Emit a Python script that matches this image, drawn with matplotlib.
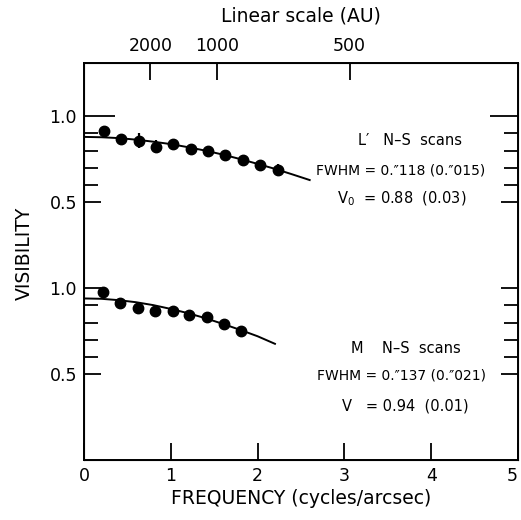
import matplotlib
matplotlib.use("Agg")
import matplotlib.pyplot as plt

# L' band, N-S scans (drawn in the upper strip, shifted up by one unit)
l_freq = [0.23, 0.43, 0.63, 0.83, 1.03, 1.23, 1.43, 1.63, 1.83, 2.03, 2.23]
l_vis = [0.912, 0.867, 0.859, 0.824, 0.837, 0.810, 0.800, 0.775, 0.745, 0.714, 0.688]
l_err = [0.0, 0.0, 0.045, 0.040, 0.0, 0.0, 0.0, 0.0, 0.0, 0.0, 0.035]
l_fit_freq = [0.0, 0.2, 0.4, 0.6, 0.8, 1.0, 1.2, 1.4, 1.6, 1.8, 2.0, 2.2, 2.4, 2.6]
l_fit_vis = [0.880, 0.878, 0.873, 0.864, 0.852, 0.838, 0.820, 0.800, 0.777, 0.751, 0.723, 0.694, 0.662, 0.629]

# M band, N-S scans (lower strip)
m_freq = [0.22, 0.42, 0.62, 0.82, 1.02, 1.21, 1.42, 1.61, 1.81]
m_vis = [0.975, 0.915, 0.882, 0.868, 0.866, 0.843, 0.830, 0.789, 0.750]
m_fit_freq = [0.0, 0.2, 0.4, 0.6, 0.8, 1.0, 1.2, 1.4, 1.6, 1.8, 2.0, 2.2]
m_fit_vis = [0.940, 0.938, 0.930, 0.918, 0.901, 0.879, 0.854, 0.825, 0.792, 0.757, 0.720, 0.676]

# top axis: linear scale in AU, freq = AU_CONST / AU
au_ticks = [2000, 1000, 500]
AU_CONST = 1530.0

x_ticks = [0, 1, 2, 3, 4, 5]
y_major = [0.5, 1.0, 1.5, 2.0]
y_major_labels = ["0.5", "1.0", "0.5", "1.0"]
y_minor = [0.6, 0.7, 0.8, 0.9, 1.6, 1.7, 1.8, 1.9]
OFFSET = 1.0  # vertical shift of the L' strip

plt.rcParams["font.family"] = "DejaVu Sans"

fig = plt.figure(figsize=(5.21, 5.20), dpi=100)
ax = fig.add_axes([84 / 521, 60 / 520, 434 / 521, 397 / 520])

lw = 1.4
ax.plot(l_fit_freq, [v + OFFSET for v in l_fit_vis], color="black", lw=lw)
ax.errorbar(l_freq, [v + OFFSET for v in l_vis], yerr=l_err, fmt="o", color="black",
            ms=7.5, elinewidth=1.6, capsize=0)
ax.plot(m_fit_freq, m_fit_vis, color="black", lw=lw)
ax.plot(m_freq, m_vis, "o", color="black", ms=7.5)

ax.set_xlim(0, 5)
ax.set_ylim(0, 2.31)
ax.set_xticks(x_ticks)
xlabels = ax.set_xticklabels([str(t) for t in x_ticks])
xlabels[-1].set_horizontalalignment("right")  # keep the "5" inside the picture
ax.set_yticks(y_major)
ax.set_yticklabels(y_major_labels)
ax.set_yticks(y_minor, minor=True)

ax.tick_params(axis="both", which="both", direction="in", width=1.3, labelsize=12.5)
ax.tick_params(axis="x", length=12, pad=5, top=False)
ax.tick_params(axis="y", which="major", length=12, pad=5, right=True)
ax.tick_params(axis="y", which="minor", length=10, right=True)

# the upper 1.0 tick is drawn longer on both sides
for tick in ax.yaxis.get_major_ticks():
    if tick.get_loc() == 2.0:
        tick.tick1line.set_markersize(22)
        tick.tick2line.set_markersize(20)

for s in ax.spines.values():
    s.set_linewidth(1.4)

top = ax.twiny()
top.set_xlim(ax.get_xlim())
top.set_xticks([AU_CONST / a for a in au_ticks])
top.set_xticklabels([str(a) for a in au_ticks])
top.tick_params(axis="x", direction="in", length=12, width=1.3, pad=6, labelsize=12.5)
top.set_xlabel("Linear scale (AU)", fontsize=13.5, labelpad=11)

ax.set_xlabel("FREQUENCY (cycles/arcsec)", fontsize=13.5, labelpad=3)
ax.set_ylabel("VISIBILITY", fontsize=13.5)
ax.yaxis.set_label_coords(-0.115, 0.52)

txt = dict(transform=ax.transAxes, ha="center", va="center", fontsize=10.5)
ax.text(0.751, 0.806, "L\u2032   N\u2013S  scans", **txt)
ax.text(0.730, 0.728, "FWHM = 0.\u2033118 (0.\u2033015)", fontsize=10, transform=ax.transAxes,
        ha="center", va="center")
ax.text(0.732, 0.657, "V$_0$  = 0.88  (0.03)", **txt)
ax.text(0.742, 0.282, "M    N\u2013S  scans", **txt)
ax.text(0.731, 0.212, "FWHM = 0.\u2033137 (0.\u2033021)", fontsize=10, transform=ax.transAxes,
        ha="center", va="center")
ax.text(0.740, 0.136, "V   = 0.94  (0.01)", **txt)

fig.savefig("out.png", dpi=100)
